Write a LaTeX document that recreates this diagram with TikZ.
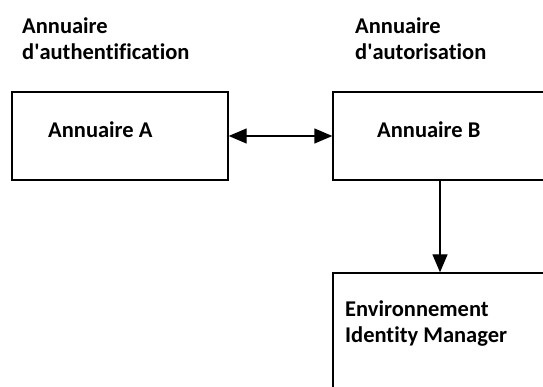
\documentclass[tikz,border=0pt]{standalone}
\usepackage{fontspec}
\setmainfont[Ligatures={NoCommon}]{Carlito}
\usetikzlibrary{arrows.meta,positioning}

\begin{document}
\begin{tikzpicture}[
    x=1pt,
    y=-1pt,
    box/.style={draw, line width=1.4pt, inner sep=0pt},
    lbl/.style={anchor=west, inner sep=0pt, align=left,
        font=\fontsize{22.5}{26}\selectfont\bfseries},
    arr/.style={line width=1.4pt, -{Triangle[length=18pt,width=15pt]}},
    dblarr/.style={line width=1.4pt,
        {Triangle[length=18pt,width=15pt]}-{Triangle[length=18pt,width=15pt]}}
]
\useasboundingbox (0,0) rectangle (543,387);
\clip (0,0) rectangle (543,387);


% Titles
\node[lbl] (titleA) at (22,39) {Annuaire\\d\textquotesingle authentification};
\node[lbl] (titleB) at (355,39) {Annuaire\\d\textquotesingle autorisation};


% Boxes
\node[box, minimum width=216, minimum height=88] (annA) at (120,136) {};
\node[box, minimum width=240, minimum height=88] (annB) at (453,136) {};
\node[box, minimum width=240, minimum height=160] (env) at (453,353) {};


% Box texts
\node[lbl] (txtA) at (48,130) {Annuaire A};
\node[lbl] (txtB) at (377,130) {Annuaire B};
\node[lbl] (txtEnv) at (345,323.5) {Environnement\\Identity Manager};


% Links
\coordinate (drop) at (440,0);
\draw[dblarr] (annA.east) -- (annB.west);
\draw[arr] (annB.south -| drop) -- (env.north -| drop);


\end{tikzpicture}
\end{document}
